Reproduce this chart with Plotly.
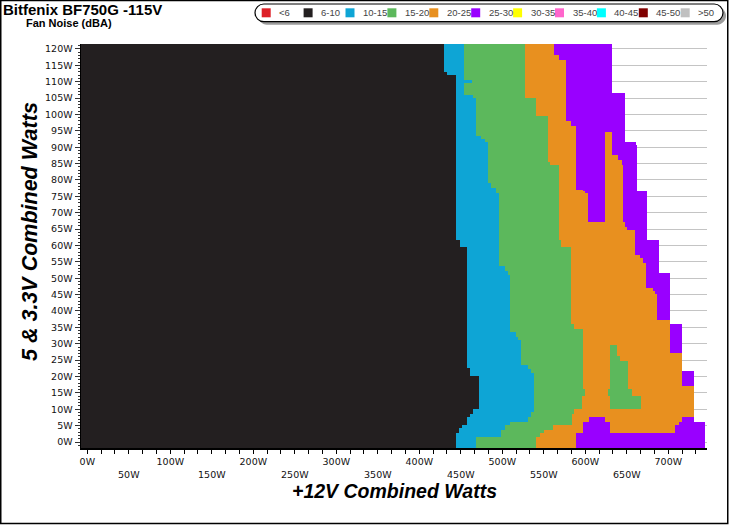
import numpy as np
import plotly.graph_objects as go

# ---------------- data ----------------
legend_labels = ["<6", "6-10", "10-15", "15-20", "20-25", "25-30",
                 "30-35", "35-40", "40-45", "45-50", ">50"]
legend_colors = ["#dd1f26", "#231f20", "#0ea5d5", "#5cb85c", "#e8901f", "#9900ff",
                 "#ffff00", "#ff66cc", "#00ffff", "#800000", "#c0c0c0"]

# Step boundaries: for rows with 5&3.3V load >= *_y[k], class ends at +12V load *_x[k]
black_end_y = [113.1, 112.1, 61.7, 59.7, 22.6, 19.9, 10.3, 8.7, 7.7, 5.2, 4.2, 2.6, -5]
black_end_x = [430, 433, 444, 449, 457, 461, 472, 465, 461, 458, 451, 448, 444]

blue_end_y = [110.6, 109.6, 106.0, 105.0, 93.3, 92.3, 91.3, 79.0, 77.5, 76.0, 53.5, 52.0, 51.0,
              33.7, 32.2, 31.1, 23.5, 22.0, 21.0, 9.2, 7.7, 6.2, 5.2, 3.6, 1.6, -5]
blue_end_x = [454, 463, 454, 465, 469, 475, 479, 483, 487, 492.5, 496, 503, 507,
              510, 516.5, 519, 523, 530.5, 534.5, 538, 534.5, 530.5, 510, 503, 499, 468.5]

green_end_y = [105.0, 99.4, 85.6, 84.6, 61.7, 59.7, 36.2, 34.7, 15.9, 14.3, 10.3, 8.7, 5.2,
               3.6, 2.6, 1.6, -5]
green_end_x = [527, 541, 554.5, 558, 569, 571, 583, 586, 597, 600, 596, 586, 584,
               561, 551, 545, 541]

orange_end_y = [117.9, 116.7, 97.9, 96.5, 77.2, 76.5, 76.0, 67.3, 65.8, 64.8, 57.1, 56.1, 54.6,
                46.9, 45.9, 44.9, 37.3, 27.1, 17.1, 7.7, 6.2, 5.2, 2.6, -5]
orange_end_x = [562, 569, 576.5, 583, 589, 596.5, 600, 604, 647.5, 651, 659.5, 665.5, 670,
                673.5, 681.5, 684, 686.5, 701.5, 716.5, 730.5, 716.5, 712.5, 708.7, 589]

purple_end_y = [106.5, 91.7, 90.4, 76.5, 61.7, 51.5, 36.2, 21.5, 6.2, -5]
purple_end_x = [632.5, 647.5, 660.5, 661.5, 674.5, 688.5, 701.5, 716.5, 730.5, 745]

# islands: class index, 5&3.3V from/to, +12V from/to
island_class = [4, 4, 4, 4, 3, 3, 3, 3, 3, 5, 5]
island_y0 = [87.7, 86.2, 84.6, 67.3, 26.0, 24.5, 15.9, 14.3, 10.3, 6.2, 2.6]
island_y1 = [94.3, 87.7, 86.2, 84.6, 29.6, 26.0, 24.5, 15.9, 14.3, 7.7, 6.2]
island_x0 = [623.5, 623.5, 623.5, 623.5, 629.5, 629.5, 629.5, 627.5, 629.5, 604.5, 597]
island_x1 = [631.5, 639.5, 643.5, 646, 638.5, 642, 652, 655.5, 667, 623.5, 629.5]

y_tick_vals = list(range(0, 121, 5))
y_tick_text = [f"{v}W" for v in y_tick_vals]
x_label_vals = list(range(0, 701, 50))

# ---------------- geometry ----------------
W, H = 729, 525
L, R, T, B = 81, 22, 44, 77
PW, PH = W - L - R, H - T - B
XR = [-7.6, 746.6]
YR = [-1.83, 121.5]


def fx(px):
    return (px - L) / PW


def fy(py):
    return (T + PH - py) / PH


# ---------------- build class grid ----------------
x_edges = np.linspace(XR[0], XR[1], 756)
y_edges = np.linspace(YR[0], YR[1], 248)
xc = (x_edges[:-1] + x_edges[1:]) / 2
yc = (y_edges[:-1] + y_edges[1:]) / 2


def step(ys, xs, y):
    ys = np.asarray(ys)
    k = int(np.argmax(y >= ys))
    return xs[k]


z = np.full((len(yc), len(xc)), np.nan)
for i, y in enumerate(yc):
    row = np.full(len(xc), np.nan)
    row[xc < step(purple_end_y, purple_end_x, y)] = 5
    row[xc < step(orange_end_y, orange_end_x, y)] = 4
    row[xc < step(green_end_y, green_end_x, y)] = 3
    row[xc < step(blue_end_y, blue_end_x, y)] = 2
    row[xc < step(black_end_y, black_end_x, y)] = 1
    for c, a0, a1, b0, b1 in zip(island_class, island_y0, island_y1, island_x0, island_x1):
        if a0 <= y < a1:
            row[(xc >= b0) & (xc < b1)] = c
    z[i] = row

n = len(legend_colors)
colorscale = []
for k, c in enumerate(legend_colors):
    colorscale.append([k / n, c])
    colorscale.append([(k + 1) / n, c])

fig = go.Figure()
fig.add_trace(go.Heatmap(
    z=z, x=x_edges, y=y_edges, zmin=-0.5, zmax=n - 0.5,
    colorscale=colorscale, showscale=False, hoverinfo="skip", zsmooth=False,
))

# x ticks every 1/6 of 100 W, labels every 50 W on two staggered rows
x_tick_vals = [k * 50 / 3 for k in range(0, 45)]
x_tick_text = []
for v in x_tick_vals:
    r = round(v)
    if abs(v - r) < 1e-6 and r in x_label_vals:
        x_tick_text.append(f"{r}W" if r % 100 == 0 else f"<br>{r}W")
    else:
        x_tick_text.append("")

tick_font = dict(family="DejaVu Sans", size=9.5, color="#111111")
fig.update_xaxes(
    range=XR, tickmode="array", tickvals=x_tick_vals, ticktext=x_tick_text,
    ticks="outside", ticklen=4, tickcolor="black", tickwidth=1,
    showline=True, linecolor="black", linewidth=2, showgrid=False, zeroline=False,
    tickfont=tick_font, fixedrange=True, automargin=False,
)
fig.update_yaxes(
    range=YR, tickmode="array", tickvals=y_tick_vals, ticktext=y_tick_text,
    ticks="outside", ticklen=5, tickcolor="#333333", tickwidth=1,
    minor=dict(dtick=1, tick0=0, ticks="outside", ticklen=2, tickcolor="#333333", showgrid=False),
    showline=True, linecolor="black", linewidth=1.5,
    showgrid=True, gridcolor="#c4c4c4", gridwidth=1, zeroline=False,
    tickfont=tick_font, fixedrange=True, automargin=False,
)


def pill(x0, y0, x1, y1):
    r = (y1 - y0) / 2
    k = 0.5523 * r
    ym = (y0 + y1) / 2
    pts = [
        ("M", [(x0 + r, y0)]),
        ("L", [(x1 - r, y0)]),
        ("C", [(x1 - r + k, y0), (x1, ym - k), (x1, ym)]),
        ("C", [(x1, ym + k), (x1 - r + k, y1), (x1 - r, y1)]),
        ("L", [(x0 + r, y1)]),
        ("C", [(x0 + r - k, y1), (x0, ym + k), (x0, ym)]),
        ("C", [(x0, ym - k), (x0 + r - k, y0), (x0 + r, y0)]),
    ]
    s = ""
    for cmd, ps in pts:
        s += cmd + " " + " ".join(f"{fx(a):.5f},{fy(b):.5f}" for a, b in ps) + " "
    return s + "Z"


shapes = []
# outer frame
shapes.append(dict(type="rect", xref="paper", yref="paper", x0=fx(0.75), x1=fx(727.75),
                   y0=fy(523.5), y1=fy(0.5), line=dict(color="black", width=1.5), layer="above"))
# legend box with shadow
shapes.append(dict(type="path", xref="paper", yref="paper", path=pill(258, 7, 726, 24.7),
                   fillcolor="#9c9c9c", line=dict(width=0), layer="above"))
shapes.append(dict(type="path", xref="paper", yref="paper", path=pill(255, 4, 723, 21.7),
                   fillcolor="white", line=dict(color="black", width=1.2), layer="above"))

annotations = []
for i, (lab, col) in enumerate(zip(legend_labels, legend_colors)):
    sx = 261.7 + 41.9 * i
    shapes.append(dict(type="rect", xref="paper", yref="paper", x0=fx(sx), x1=fx(sx + 9),
                       y0=fy(17.3), y1=fy(8.3), fillcolor=col, line=dict(width=0), layer="above"))
    annotations.append(dict(text=lab, xref="paper", yref="paper", x=fx(sx + 15.5), y=fy(13),
                            xanchor="left", yanchor="middle", showarrow=False,
                            font=dict(family="Liberation Sans", size=9.5, color="#444444")))

annotations.append(dict(text="<b>Bitfenix BF750G -115V</b>", xref="paper", yref="paper",
                        x=fx(0.5), y=fy(9.5), xanchor="left", yanchor="middle", showarrow=False,
                        font=dict(family="Liberation Sans", size=15, color="black")))
annotations.append(dict(text="<b>Fan Noise (dBA)</b>", xref="paper", yref="paper",
                        x=fx(23.5), y=fy(23), xanchor="left", yanchor="middle", showarrow=False,
                        font=dict(family="Liberation Sans", size=11, color="black")))
annotations.append(dict(text="<b><i>+12V Combined Watts</i></b>", xref="paper", yref="paper",
                        x=fx(394), y=fy(491), xanchor="center", yanchor="middle", showarrow=False,
                        font=dict(family="Liberation Sans", size=19.5, color="black")))
annotations.append(dict(text="<b><i>5 & 3.3V Combined Watts</i></b>", xref="paper", yref="paper",
                        x=fx(30), y=fy(232), xanchor="center", yanchor="middle", showarrow=False,
                        textangle=-90,
                        font=dict(family="Liberation Sans", size=21.5, color="black")))

fig.update_layout(
    width=W, height=H, margin=dict(l=L, r=R, t=T, b=B, pad=0),
    plot_bgcolor="white", paper_bgcolor="white", showlegend=False,
    shapes=shapes, annotations=annotations,
)

fig.write_html("out.html", config={"displayModeBar": False, "staticPlot": True},
               post_script="document.body.style.margin='0px';document.body.style.padding='0px';")
